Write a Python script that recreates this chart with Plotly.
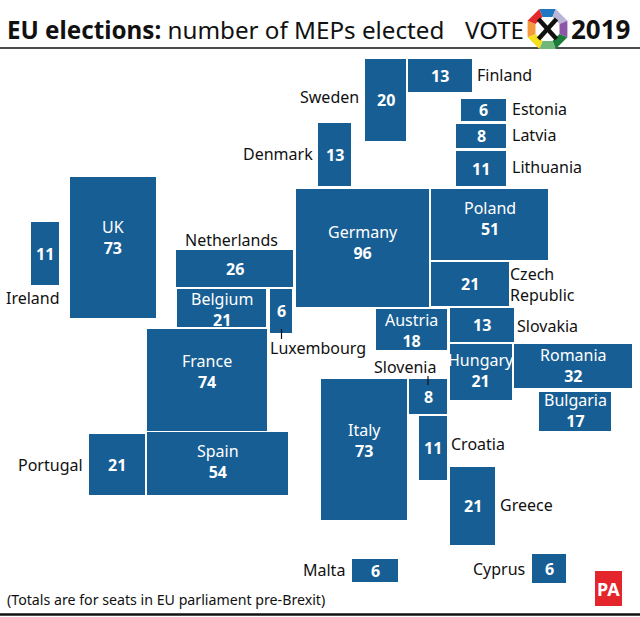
import math
import plotly.graph_objects as go

# seats per country
countries = ["Finland", "Sweden", "Estonia", "Latvia", "Lithuania", "Denmark", "UK", "Ireland",
             "Germany", "Poland", "Czech Republic", "Netherlands", "Belgium", "Luxembourg", "France",
             "Austria", "Slovakia", "Hungary", "Romania", "Bulgaria", "Slovenia", "Italy", "Croatia",
             "Greece", "Portugal", "Spain", "Malta", "Cyprus"]
seats = [13, 20, 6, 8, 11, 13, 73, 11, 96, 51, 21, 26, 21, 6, 74, 18, 13, 21, 32, 17, 8, 73, 11, 21, 21, 54, 6, 6]

# where the tiles sit on the page (left, right, top, bottom)
left = [408, 365, 461, 456, 456, 318, 70, 31, 296, 431, 431, 176, 177, 270, 147, 376, 450, 450, 514, 539, 409, 321, 419, 450, 89, 147, 352, 532]
right = [472, 406, 506, 506, 506, 351, 156, 59, 429, 548, 509, 293, 266, 292, 267, 447, 514, 512, 632, 611, 447, 407, 447, 495, 145, 288, 398, 566]
top = [59, 59, 99, 124, 151, 123, 177, 222, 189, 189, 262, 250, 289, 289, 329, 309, 308, 344, 344, 392, 379, 379, 416, 467, 434, 432, 559, 554]
bottom = [92, 141, 121, 148, 186, 186, 318, 285, 307, 260, 306, 287, 327, 333, 431, 350, 342, 400, 388, 431, 414, 520, 480, 545, 495, 495, 582, 583]

# names printed inside the tile, with the height of the name on the page
inside_names = {"UK": 228, "Germany": 233, "Poland": 209, "Belgium": 300, "France": 362, "Austria": 321,
                "Hungary": 361, "Romania": 356, "Bulgaria": 401, "Italy": 431, "Spain": 452}

# names printed beside the tile: text, x, y
outside_labels = [("Finland", 477, 75), ("Sweden", 300, 97), ("Estonia", 512, 109),
                  ("Latvia", 512, 135), ("Lithuania", 512, 167), ("Denmark", 243, 154),
                  ("Ireland", 6, 298), ("Netherlands", 185, 240), ("Czech<br>Republic", 510, 284),
                  ("Slovakia", 517, 326), ("Luxembourg", 270, 348),
                  ("Slovenia", 374, 367), ("Croatia", 451, 444), ("Greece", 500, 505),
                  ("Portugal", 18, 465), ("Malta", 303, 570), ("Cyprus", 473, 569)]

BLUE = "#175e94"
FONT = "Noto Sans"

fig = go.Figure()
fig.add_trace(go.Bar(
    x=[(a + b) / 2 for a, b in zip(left, right)],
    width=[b - a for a, b in zip(left, right)],
    base=top,
    y=[b - a for a, b in zip(top, bottom)],
    marker=dict(color=BLUE, line_width=0),
    hovertext=countries,
    showlegend=False,
))

annotations = []


def add_text(x, y, text, size=16, color="#111111", anchor="center"):
    annotations.append(dict(x=x, y=y, text=text, showarrow=False, xanchor=anchor, yanchor="middle",
                            xref="x", yref="y", align=anchor, xshift=-2 if anchor == "left" else 0,
                            font=dict(family=FONT, size=size, color=color)))


for i, name in enumerate(countries):
    cx = (left[i] + right[i]) / 2
    cy = (top[i] + bottom[i]) / 2
    if name in inside_names:
        add_text(cx, inside_names[name] + 9.5, "%s<br><b>%d</b>" % (name, seats[i]), color="white")
    else:
        add_text(cx, cy, "<b>%d</b>" % seats[i], color="white")

for text, x, y in outside_labels:
    add_text(x, y, text, anchor="left")

# header and footer
add_text(7, 29, "<b>EU elections:</b> number of MEPs elected", size=24.2, anchor="left")
add_text(465, 29, "VOTE", size=24, anchor="left")
add_text(571, 29, "<b>2019</b>", size=26, anchor="left")
add_text(7, 599, "(Totals are for seats in EU parliament pre-Brexit)", size=14.2, anchor="left")
add_text(608, 589, "<b>PA</b>", size=18, color="white")

shapes = [
    dict(type="line", x0=0, x1=640, y0=48, y1=48, line=dict(color="#111111", width=1.5)),
    dict(type="line", x0=0, x1=640, y0=614.5, y1=614.5, line=dict(color="#111111", width=2.5)),
    dict(type="rect", x0=595, x1=622, y0=571, y1=606, fillcolor="#e4252b", line_width=0),
    # leader lines
    dict(type="line", x0=281.5, x1=281.5, y0=329, y1=339, line=dict(color="#111111", width=1.2), layer="above"),
    dict(type="line", x0=428, x1=428, y0=376, y1=385, line=dict(color="#111111", width=1.2), layer="above"),
]

# octagon logo, clockwise from the top segment
ring_colors = ["#1f78c1", "#b9b5d6", "#8c55a8", "#1e7d3a", "#6fb87a", "#f5e020", "#f39a3c", "#e32b2b"]
logo_x, logo_y = 547.5, 29
r_out, r_in = 21.5, 13
for k, col in enumerate(ring_colors):
    a0 = math.radians(-90 - 22.5 + 45 * k)
    a1 = math.radians(-90 + 22.5 + 45 * k)
    pts = [(logo_x + r_out * math.cos(a0), logo_y + r_out * math.sin(a0)),
           (logo_x + r_out * math.cos(a1), logo_y + r_out * math.sin(a1)),
           (logo_x + r_in * math.cos(a1), logo_y + r_in * math.sin(a1)),
           (logo_x + r_in * math.cos(a0), logo_y + r_in * math.sin(a0))]
    path = "M " + " L ".join("%.1f %.1f" % p for p in pts) + " Z"
    shapes.append(dict(type="path", path=path, fillcolor=col, line_width=0, layer="above"))
for dx in (-1, 1):
    shapes.append(dict(type="line", x0=logo_x - 9 * dx, x1=logo_x + 9 * dx, y0=logo_y - 10, y1=logo_y + 10,
                       line=dict(color="#111111", width=4.5), layer="above"))

fig.update_layout(
    width=640, height=617,
    margin=dict(l=0, r=0, t=0, b=0),
    paper_bgcolor="white", plot_bgcolor="white",
    xaxis=dict(range=[0, 640], visible=False, fixedrange=True),
    yaxis=dict(range=[617, 0], visible=False, fixedrange=True),
    annotations=annotations,
    shapes=shapes,
    bargap=0,
    font=dict(family=FONT),
)

# the page's default body margin would push the chart 8px in
fig.write_html("out.html", post_script="document.body.style.margin = '0';",
               config={"displayModeBar": False})
